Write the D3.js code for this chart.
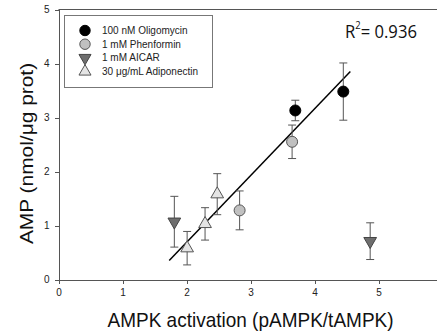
<!DOCTYPE html>
<html lang="en">
<head>
<meta charset="UTF-8">
<title>AMP vs AMPK activation</title>
<script src="https://cdn.jsdelivr.net/npm/d3@7"></script>
<style>
  body { margin: 0; background: #fff; }
  .axis path, .axis line { fill: none; stroke: #555; shape-rendering: crispEdges; }
  .axis text { font-family: "Liberation Sans", Arial, sans-serif; font-size: 10px; fill: #222; }
</style>
</head>
<body>
<div id="container"></div>
<script>
// series: x, y, y error
var oligomycin = [[3.70, 3.13, 0.19], [4.45, 3.48, 0.53]]
var phenformin = [[3.65, 2.55, 0.31], [2.83, 1.28, 0.36]]
var aicar = [[1.81, 1.07, 0.47], [4.87, 0.71, 0.34]]
var adiponectin = [[2.01, 0.58, 0.31], [2.29, 1.03, 0.30], [2.48, 1.58, 0.38]]
// fit line endpoints
var fitLine = [[1.73, 0.35], [4.56, 3.85]]
var xTicks = [0, 1, 2, 3, 4, 5]
var yTicks = [0, 1, 2, 3, 4, 5]
var legendLabels = ["100 nM Oligomycin", "1 mM Phenformin", "1 mM AICAR", "30 \u03bcg/mL Adiponectin"]

let width = 437
let height = 335

let svg = d3.select("#container")
  .append("svg")
  .attr("width", width)
  .attr("height", height)

let xScale = d3.scaleLinear().domain([0, 6]).range([58.5, 442.5])
let yScale = d3.scaleLinear().domain([0, 5]).range([279.5, 9.5])

// top frame line
svg.append("line")
  .attr("x1", xScale(0)).attr("x2", width)
  .attr("y1", yScale(5)).attr("y2", yScale(5))
  .attr("stroke", "#555")

let xAxis = d3.axisBottom(xScale).tickValues(xTicks).tickFormat(d3.format("d"))
  .tickSize(4).tickPadding(5).tickSizeOuter(0)
let yAxis = d3.axisLeft(yScale).tickValues(yTicks).tickFormat(d3.format("d"))
  .tickSize(4).tickPadding(5).tickSizeOuter(0)

svg.append("g")
  .attr("class", "axis")
  .attr("transform", "translate(0," + yScale(0) + ")")
  .call(xAxis)
svg.append("g")
  .attr("class", "axis")
  .attr("transform", "translate(" + xScale(0) + ",0)")
  .call(yAxis)

// axis titles (slightly stretched vertically like the source)
svg.append("text")
  .attr("transform", "translate(250.5,326.5) scale(1,1.1)")
  .attr("text-anchor", "middle")
  .attr("font-family", "Liberation Sans, Arial, sans-serif")
  .attr("font-size", 19)
  .attr("fill", "#111")
  .text("AMPK activation (pAMPK/tAMPK)")
svg.append("text")
  .attr("transform", "translate(33,153.5) scale(1,1.1) rotate(-90)")
  .attr("text-anchor", "middle")
  .attr("font-family", "Liberation Sans, Arial, sans-serif")
  .attr("font-size", 19)
  .attr("fill", "#111")
  .text("AMP (nmol/\u03bcg prot)")

// fit line
svg.append("line")
  .attr("x1", xScale(fitLine[0][0])).attr("y1", yScale(fitLine[0][1]))
  .attr("x2", xScale(fitLine[1][0])).attr("y2", yScale(fitLine[1][1]))
  .attr("stroke", "#000").attr("stroke-width", 1.5)

let series = [
  { data: oligomycin, sym: d3.symbolCircle, size: 95, fill: "#000", stroke: "#000", rot: 0 },
  { data: phenformin, sym: d3.symbolCircle, size: 95, fill: "#c0c0c0", stroke: "#555", rot: 0 },
  { data: aicar, sym: d3.symbolTriangle, size: 70, fill: "#6e6e6e", stroke: "#444", rot: 180 },
  { data: adiponectin, sym: d3.symbolTriangle, size: 70, fill: "#e4e4e4", stroke: "#555", rot: 0 }
]

series.forEach(function(s) {
  let g = svg.append("g")
  // error bars
  let eb = g.selectAll(".eb").data(s.data).enter().append("g").attr("stroke", "#555")
  eb.append("line")
    .attr("x1", d => xScale(d[0])).attr("x2", d => xScale(d[0]))
    .attr("y1", d => yScale(d[1] + d[2])).attr("y2", d => yScale(d[1] - d[2]))
  eb.append("line")
    .attr("x1", d => xScale(d[0]) - 4).attr("x2", d => xScale(d[0]) + 4)
    .attr("y1", d => yScale(d[1] + d[2])).attr("y2", d => yScale(d[1] + d[2]))
  eb.append("line")
    .attr("x1", d => xScale(d[0]) - 4).attr("x2", d => xScale(d[0]) + 4)
    .attr("y1", d => yScale(d[1] - d[2])).attr("y2", d => yScale(d[1] - d[2]))
  // markers
  g.selectAll("path.pt").data(s.data).enter().append("path")
    .attr("class", "pt")
    .attr("d", d3.symbol().type(s.sym).size(s.size))
    .attr("transform", d => "translate(" + xScale(d[0]) + "," + yScale(d[1]) + ") rotate(" + s.rot + ")")
    .attr("fill", s.fill)
    .attr("stroke", s.stroke)
})

// legend
let legend = svg.append("g")
legend.append("rect")
  .attr("x", 64.5).attr("y", 15.5).attr("width", 148).attr("height", 72)
  .attr("fill", "#fff").attr("stroke", "#777")
legendLabels.forEach(function(lab, i) {
  let s = series[i]
  let y = 30.5 + i * 13.7
  legend.append("path")
    .attr("d", d3.symbol().type(s.sym).size(s.size * 0.9))
    .attr("transform", "translate(85," + y + ") rotate(" + s.rot + ")")
    .attr("fill", s.fill).attr("stroke", s.stroke)
  legend.append("text")
    .attr("x", 102).attr("y", y + 3.5)
    .attr("font-family", "Liberation Sans, Arial, sans-serif")
    .attr("font-size", 10)
    .attr("fill", "#222")
    .text(lab)
})

// R squared
let r2 = svg.append("text")
  .attr("transform", "translate(345,37.5) scale(0.9,1)")
  .attr("font-family", "Open Sans, sans-serif")
  .attr("font-size", 18.5)
  .attr("fill", "#111")
r2.append("tspan").text("R")
r2.append("tspan").attr("dy", -8.5).attr("font-size", 10.5).text("2")
r2.append("tspan").attr("dy", 8.5).text("= 0.936")
</script>
</body>
</html>
